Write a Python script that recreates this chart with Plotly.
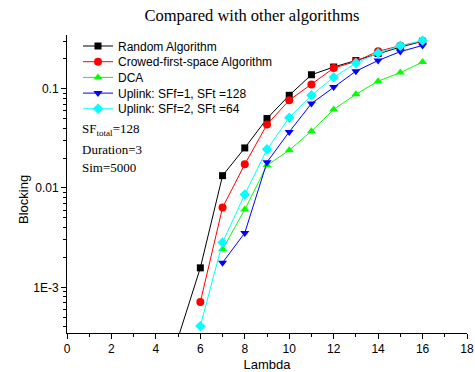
import plotly.graph_objects as go

lam = [5, 6, 7, 8, 9, 10, 11, 12, 13, 14, 15, 16]
random_alg = [3.1e-4, 0.00157, 0.0133, 0.0253, 0.050, 0.0857, 0.138, 0.165, 0.192, 0.226, 0.262, 0.300]
lam_b = [6, 7, 8, 9, 10, 11, 12, 13, 14, 15, 16]
crowed = [7.1e-4, 0.00636, 0.0173, 0.0435, 0.0764, 0.110, 0.161, 0.188, 0.238, 0.270, 0.300]
lam_c = [7, 8, 9, 10, 11, 12, 13, 14, 15, 16]
dca = [0.00241, 0.00607, 0.0169, 0.0240, 0.0373, 0.0616, 0.0877, 0.119, 0.145, 0.185]
uplink1 = [0.00177, 0.00353, 0.0182, 0.0367, 0.0708, 0.104, 0.150, 0.192, 0.236, 0.272]
uplink2 = [4.07e-4, 0.00283, 0.0086, 0.0245, 0.051, 0.0857, 0.130, 0.181, 0.228, 0.270, 0.305]

series = [
    ("Random Algorithm", lam, random_alg, "black", "square", 7),
    ("Crowed-first-space Algorithm", lam_b, crowed, "red", "circle", 8),
    ("DCA", lam_c, dca, "#00ff00", "triangle-up", 8),
    ("Uplink: SFf=1, SFt =128", lam_c, uplink1, "blue", "triangle-down", 8),
    ("Uplink: SFf=2, SFt =64", lam_b, uplink2, "cyan", "diamond", 8),
]

W, H = 475, 372
ML, MR, MT, MB = 67, 8, 35, 39
PH = H - MT - MB
PW = W - ML - MR

fig = go.Figure()
legend_layout = {}
for i, (name, x, y, c, sym, sz) in enumerate(series):
    lname = "legend" if i == 0 else f"legend{i + 1}"
    fig.add_trace(go.Scatter(x=x, y=y, name=name, mode="lines+markers",
                             line=dict(color=c, width=1),
                             marker=dict(symbol=sym, size=sz, color=c),
                             legend=lname))
    center_px = 46 + i * 15.7
    legend_layout[lname] = dict(
        x=(78 - ML) / PW, y=1 - (center_px - MT) / PH,
        xanchor="left", yanchor="middle", bgcolor="rgba(0,0,0,0)",
        font=dict(size=12, family="Liberation Sans, Arial", color="black"),
        itemwidth=30, borderwidth=0)

minor_vals = []
for d in [1e-4, 1e-3, 1e-2, 1e-1]:
    for k in range(2, 10):
        minor_vals.append(k * d)

fig.update_layout(
    width=W, height=H,
    margin=dict(l=ML, r=MR, t=MT, b=MB),
    paper_bgcolor="white", plot_bgcolor="white",
    font=dict(family="Liberation Sans, Arial", size=12, color="black"),
    title=dict(text="Compared with other algorithms", x=252 / W, xanchor="center",
               y=1 - 15 / H, yanchor="middle",
               font=dict(family="Liberation Serif, Times New Roman", size=16.5)),
    showlegend=True,
    xaxis=dict(range=[0, 18], showline=True, linecolor="black", linewidth=1,
               ticks="outside", ticklen=5, tickcolor="black", dtick=2, tick0=0,
               showgrid=False, zeroline=False, mirror=False, automargin=False,
               minor=dict(ticks="outside", ticklen=3, dtick=1, tickcolor="black"),
               title=dict(text="Lambda", standoff=4, font=dict(size=13))),
    yaxis=dict(type="log", range=[-3.46, -0.46], showline=True, linecolor="black", linewidth=1,
               ticks="outside", ticklen=5, tickcolor="black", automargin=False,
               tickvals=[1e-3, 1e-2, 1e-1], ticktext=["1E-3", "0.01", "0.1"],
               showgrid=False, zeroline=False,
               minor=dict(ticks="outside", ticklen=3, tickvals=minor_vals, tickcolor="black")),
    **legend_layout,
)

fig.add_annotation(text="Blocking", xref="paper", yref="paper", x=(23 - ML) / PW,
                   y=1 - (200 - MT) / PH, xanchor="center", yanchor="middle",
                   textangle=-90, showarrow=False, font=dict(size=13))

serif = dict(family="Liberation Serif, Times New Roman", size=13, color="black")
for txt, ypx in [("SF<sub>total</sub>=128", 130), ("Duration=3", 149), ("Sim=5000", 167)]:
    fig.add_annotation(text=txt, xref="paper", yref="paper", x=(80 - ML) / PW,
                       y=1 - (ypx - MT) / PH, xanchor="left", yanchor="middle",
                       showarrow=False, font=serif)

fig.write_html("out.html", config={"displayModeBar": False},
               post_script="document.body.style.margin='0';document.body.style.overflow='hidden';")
